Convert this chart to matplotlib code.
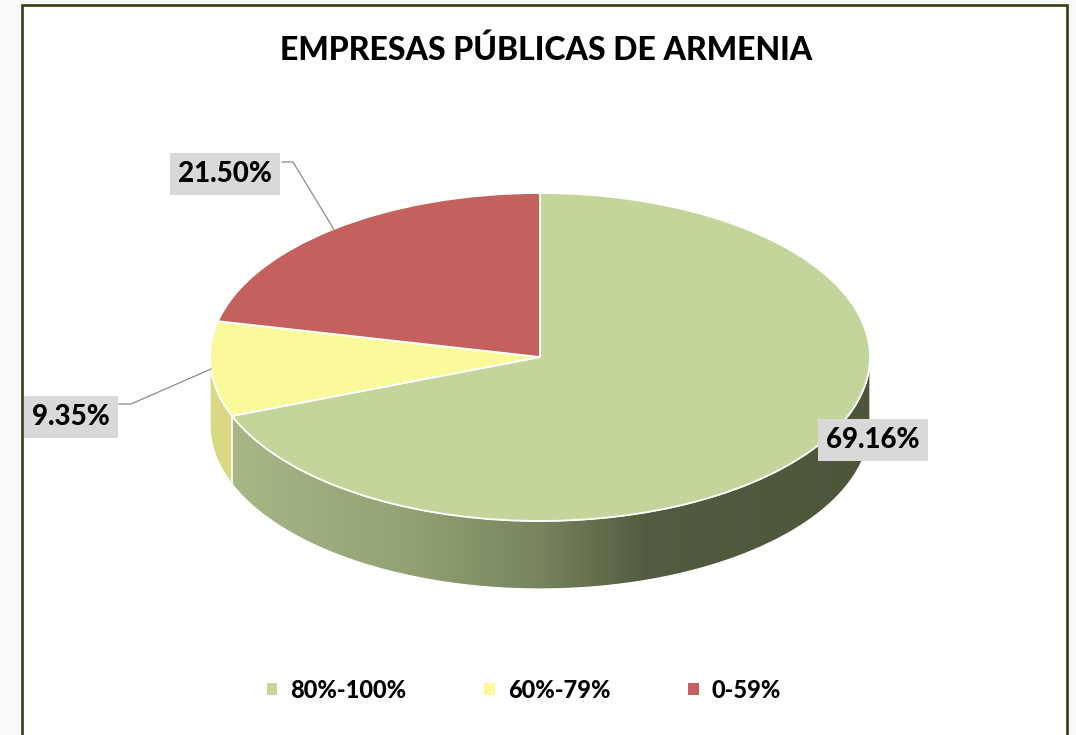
import numpy as np
import matplotlib
matplotlib.use("Agg")
import matplotlib.pyplot as plt
from matplotlib.patches import Polygon, Rectangle
from matplotlib.transforms import Affine2D
from matplotlib.colors import LinearSegmentedColormap

# data
categories = ["80%-100%", "60%-79%", "0-59%"]
shares = [69.16, 9.35, 21.50]
label_text = ["69.16%", "9.35%", "21.50%"]
title = "EMPRESAS PÚBLICAS DE ARMENIA"

# layout (pixel units, y measured from the top)
W, H = 1076, 735
cx, cy = 540, H - 357
rx, ry, depth = 330, 164, 68
label_centers = [(873, 440), (71, 417), (225, 174)]
leader_joints = [None, [(119, 404), (131, 404)], [(282, 162), (293, 162)]]

top_colors = ["#c3d59b", "#fafa9a", "#c4615e"]
side_colors = ["gradient", "#d9d985", "#9d4c49"]
green_side = LinearSegmentedColormap.from_list(
    "green_side",
    [(0.0, "#a9b988"), (0.3, "#93a273"), (0.5, "#77845d"), (0.66, "#535c40"), (1.0, "#4e553a")])

plt.rcParams["font.family"] = ["Lato", "DejaVu Sans"]
heavy = "black"

fig = plt.figure(figsize=(W / 100, H / 100), dpi=100, facecolor="#f8f9fa")
fig.add_artist(Rectangle((22 / W, -0.02), 1045 / W, (H - 5) / H + 0.02,
                         transform=fig.transFigure, facecolor="white",
                         edgecolor="#3b3b12", linewidth=1.9, zorder=0))

ax = fig.add_axes([0, 0, 1, 1])
ax.set_facecolor("none")

# top face: a normal pie squashed into an ellipse
wedges, _ = ax.pie(shares, colors=top_colors, startangle=90, counterclock=False,
                   radius=rx, center=(cx, cy),
                   wedgeprops=dict(edgecolor="white", linewidth=1.3))
squash = Affine2D().translate(-cx, -cy).scale(1, ry / rx).translate(cx, cy) + ax.transData
for w in wedges:
    w.set_transform(squash)
    w.set_zorder(3)

# side walls (only the front half is visible)
total = sum(shares)
edges = 90 - 360 * np.concatenate([[0], np.cumsum(shares)]) / total
for i in range(len(shares)):
    lo, hi = max(edges[i + 1], -180), min(edges[i], 0)
    if lo >= hi:
        continue
    t = np.radians(np.linspace(lo, hi, 200))
    xs = cx + rx * np.cos(t)
    ys = cy + ry * np.sin(t)
    pts = np.column_stack([np.r_[xs, xs[::-1]], np.r_[ys, ys[::-1] - depth]])
    if side_colors[i] == "gradient":
        patch = Polygon(pts, closed=True, facecolor="none", edgecolor="white",
                        linewidth=0.9, zorder=2.5)
        ax.add_patch(patch)
        im = ax.imshow(np.linspace(0, 1, 256).reshape(1, -1), cmap=green_side,
                       extent=(cx - rx, cx + rx, cy - ry - depth, cy),
                       aspect="auto", zorder=2)
        im.set_clip_path(patch)
    else:
        ax.add_patch(Polygon(pts, closed=True, facecolor=side_colors[i],
                             edgecolor="white", linewidth=0.9, zorder=2))

# data labels
for i, txt in enumerate(label_text):
    lx, ly = label_centers[i]
    ax.text(lx, H - ly, txt, ha="center", va="center", fontsize=20,
            fontweight=heavy, zorder=6,
            bbox=dict(boxstyle="square,pad=0.3", facecolor="#d9d9d9", edgecolor="none"))
    if leader_joints[i] is not None:
        mid = np.radians((edges[i] + edges[i + 1]) / 2)
        px, py = cx + rx * np.cos(mid), cy + ry * np.sin(mid)
        (jx0, jy0), (jx1, jy1) = leader_joints[i]
        ax.plot([jx0, jx1, px], [H - jy0, H - jy1, py], color="#8c8c8c",
                linewidth=0.9, zorder=5)

ax.set_xlim(0, W)
ax.set_ylim(0, H)
ax.set_aspect("auto")
ax.axis("off")

handles = [Rectangle((0, 0), 1, 1, facecolor=c, edgecolor="none") for c in top_colors]
ax.legend(handles, categories, loc="center", bbox_to_anchor=(524 / W, 1 - 690 / H),
          ncol=3, frameon=False, prop=dict(weight=heavy, size=17),
          handlelength=0.45, handleheight=0.45, handletextpad=0.55, columnspacing=3.3)

fig.text(546 / W, 1 - 50 / H, title, ha="center", va="center",
         fontsize=23, fontweight=heavy)

fig.savefig("out.png", dpi=100, facecolor=fig.get_facecolor())
